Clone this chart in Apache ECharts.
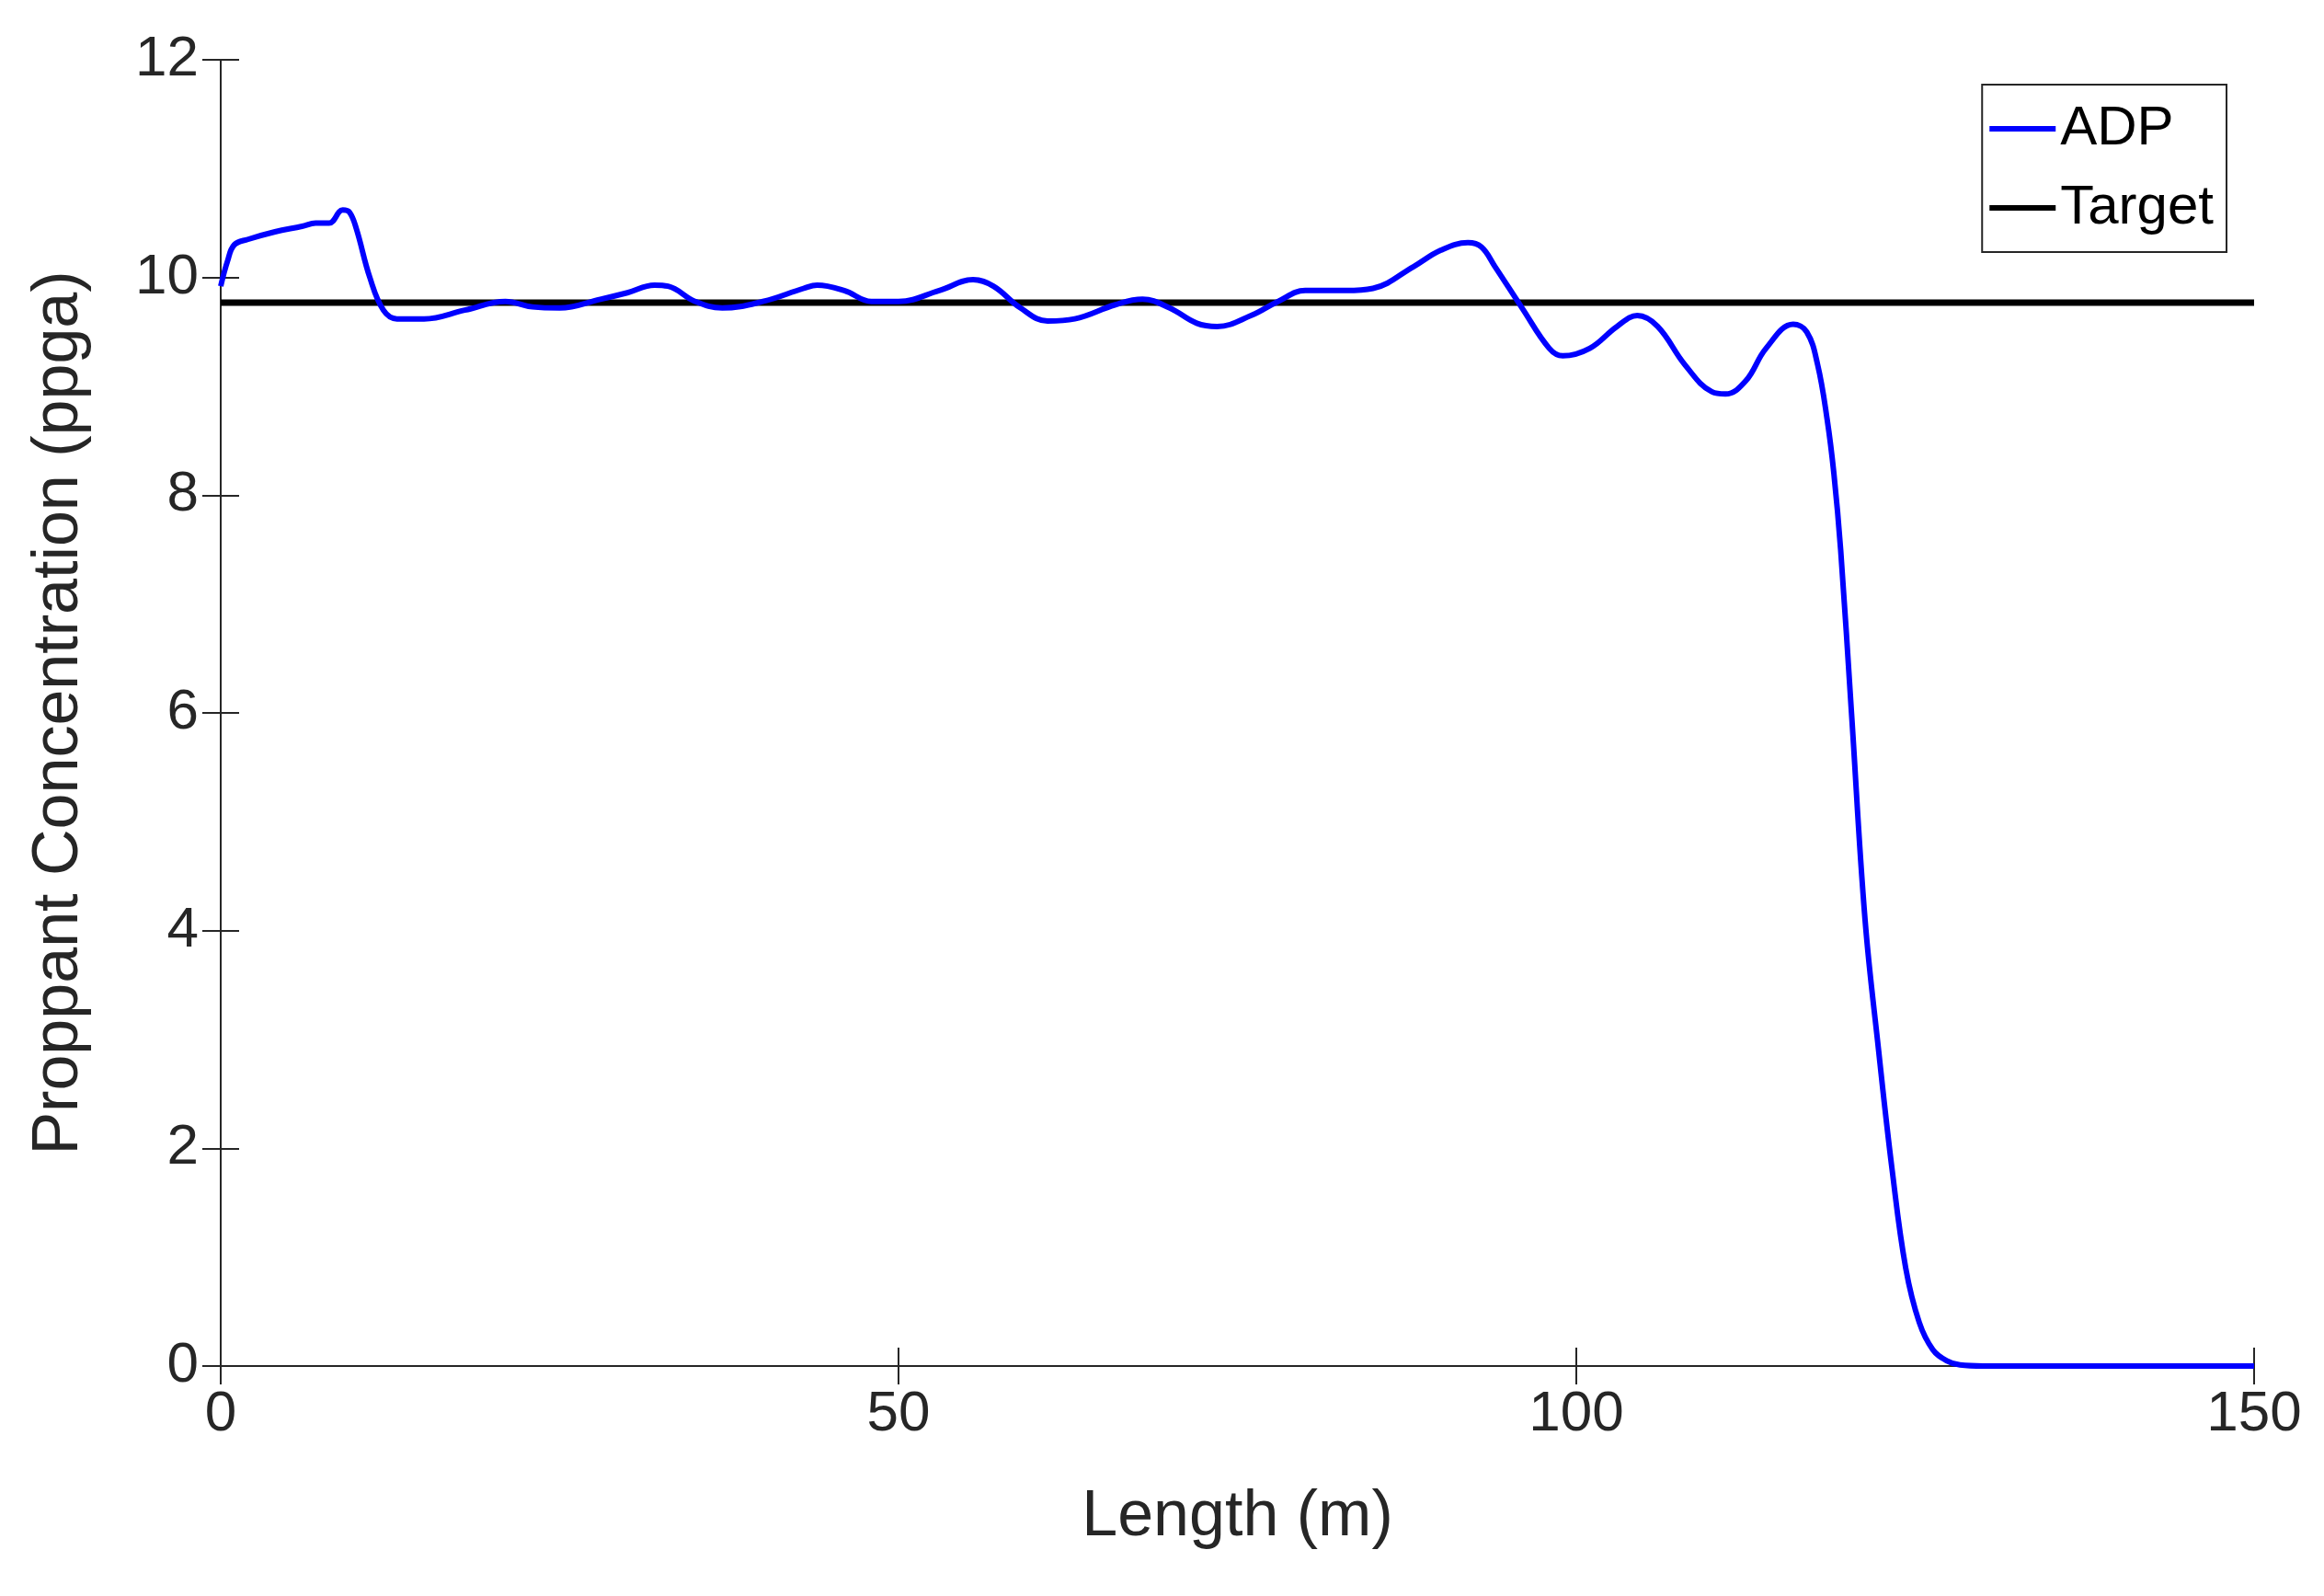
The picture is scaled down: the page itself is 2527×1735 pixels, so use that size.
<!DOCTYPE html>
<html><head><meta charset="utf-8">
<script src="https://cdn.jsdelivr.net/npm/echarts@6/dist/echarts.min.js"></script>
<style>html,body{margin:0;padding:0;background:#fff}#c{width:2527px;height:1735px}</style>
</head><body><div id="c"></div>
<script>
const lengthM = [0,0.5,1,2,4,6,7,8,9,9.5,10,11,12,13,15,18,21,23,25,28,30,32,33,35,37,40,43,44,46,48,50,53,55.5,57,59,61,63,66,68,70,72,73.5,76,78,80,83,85,88,90,92,93,94,96,98,99,101,103,104.5,106,108,110,111,112.5,114,116,117,117.8,118.5,119,119.5,120.3,121.3,122.3,123.3,124.3,125.3,126.3,127.3,128.3,130,150];
const adp = [9.92,10.15,10.3,10.35,10.42,10.47,10.5,10.5,10.62,10.6,10.45,10.0,9.7,9.62,9.62,9.7,9.78,9.73,9.72,9.8,9.86,9.93,9.92,9.78,9.72,9.78,9.9,9.93,9.88,9.78,9.78,9.88,9.98,9.92,9.72,9.6,9.62,9.75,9.8,9.72,9.58,9.55,9.65,9.78,9.88,9.88,9.9,10.1,10.25,10.32,10.28,10.1,9.72,9.35,9.28,9.35,9.55,9.65,9.55,9.2,8.95,8.93,9.05,9.35,9.57,9.5,9.2,8.7,8.2,7.5,6.0,4.1,2.9,1.8,0.9,0.4,0.15,0.05,0.01,0,0];
const targetX = [0,150];
const targetY = [9.77,9.77];
const xTicks = [0,50,100,150];
const yTicks = [0,2,4,6,8,10,12];

const ch = echarts.init(document.getElementById('c'));
const txt = '#262626', font = 'Arial, Liberation Sans, sans-serif';
const ax = {show:true,lineStyle:{color:'#262626',width:2}};
const tk = {show:true,inside:true,length:20,lineStyle:{color:'#262626',width:2}};
ch.setOption({
  animation:false,
  grid:{left:240,right:76,top:65,bottom:250},
  legend:{right:106,top:92,orient:'vertical',backgroundColor:'#fff',borderColor:'#262626',borderWidth:2,padding:[18,14,18,8],
    itemWidth:72,itemHeight:6,itemGap:26,textStyle:{fontSize:60,fontFamily:font,color:'#000'},
    data:[{name:'ADP',icon:'rect'},{name:'Target',icon:'rect'}]},
  xAxis:[{type:'value',min:0,max:150,interval:50,name:'Length (m)',nameLocation:'middle',nameGap:130,
    nameTextStyle:{fontSize:70,fontFamily:font,color:txt},
    axisLine:ax,axisTick:tk,splitLine:{show:false},
    axisLabel:{fontSize:62,fontFamily:font,color:txt,margin:22}},
   {type:'value',min:0,max:150,interval:50,position:'top',axisLine:ax,axisTick:tk,axisLabel:{show:false},splitLine:{show:false}}],
  yAxis:[{type:'value',min:0,max:12,interval:2,name:'Proppant Concentration (ppga)',nameLocation:'middle',nameGap:140,
    nameTextStyle:{fontSize:70,fontFamily:font,color:txt},
    axisLine:ax,axisTick:tk,splitLine:{show:false},
    axisLabel:{fontSize:62,fontFamily:font,color:txt,margin:24}},
   {type:'value',min:0,max:12,interval:2,position:'right',axisLine:ax,axisTick:tk,axisLabel:{show:false},splitLine:{show:false}}],
  series:[
    {name:'ADP',type:'line',showSymbol:false,smooth:0.4,color:'#0000ff',lineStyle:{width:6,color:'#0000ff'},
     data:lengthM.map((x,i)=>[x,adp[i]]),z:3},
    {name:'Target',type:'line',showSymbol:false,color:'#000',lineStyle:{width:7,color:'#000'},
     data:targetX.map((x,i)=>[x,targetY[i]]),z:2}
  ]
});
</script></body></html>
